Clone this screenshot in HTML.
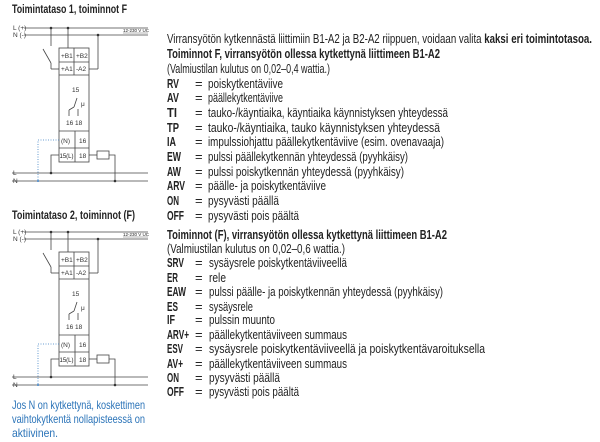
<!DOCTYPE html>
<html><head><meta charset="utf-8"><style>
html,body{margin:0;padding:0;background:#fff;}
svg{display:block;}
text{font-family:"Liberation Sans",sans-serif;fill:#222;}
.b{font-weight:bold;}
.s{font-size:6.5px;fill:#333;}
</style></head><body>
<svg width="600" height="442" viewBox="0 0 600 442" xmlns="http://www.w3.org/2000/svg">
<defs>
<g id="diag" stroke="#444" stroke-width="0.8" fill="none">
  <line x1="24" y1="28" x2="148" y2="28"/>
  <line x1="24" y1="35" x2="148" y2="35"/>
  <line x1="123" y1="33" x2="148" y2="33" stroke-width="0.4"/>
  <line x1="51" y1="28" x2="51" y2="46"/>
  <line x1="43" y1="49" x2="51" y2="63"/>
  <line x1="51" y1="63" x2="51" y2="69"/>
  <line x1="51" y1="69" x2="59" y2="69"/>
  <line x1="68" y1="28" x2="68" y2="48"/>
  <line x1="98" y1="35" x2="98" y2="69"/>
  <line x1="89" y1="69" x2="98" y2="69"/>
  <rect x="59" y="48" width="30" height="114" fill="#fff"/>
  <line x1="59" y1="62" x2="89" y2="62"/>
  <line x1="59" y1="75" x2="89" y2="75"/>
  <line x1="74" y1="48" x2="74" y2="75"/>
  <line x1="59" y1="131" x2="89" y2="131"/>
  <line x1="59" y1="148" x2="89" y2="148"/>
  <line x1="75" y1="131" x2="75" y2="162"/>
  <line x1="77" y1="98" x2="74" y2="107"/>
  <line x1="74" y1="107" x2="69" y2="110"/>
  <line x1="69" y1="110" x2="69" y2="116"/>
  <line x1="78" y1="109" x2="78" y2="116"/>
  <polyline points="59,140 38,140 38,181" stroke="#3a7fc4" stroke-dasharray="1,1.5"/>
  <polyline points="59,155 51,155 51,173"/>
  <line x1="89" y1="155" x2="97" y2="155"/>
  <rect x="97" y="151" width="12" height="8"/>
  <polyline points="109,155 115,155 115,181"/>
  <line x1="12" y1="173" x2="148" y2="173"/>
  <line x1="12" y1="181" x2="148" y2="181"/>
</g>
<g id="dots" fill="#333">
  <circle cx="51" cy="28" r="1.3"/><circle cx="68" cy="28" r="1.3"/><circle cx="98" cy="35" r="1.3"/>
  <circle cx="51" cy="173" r="1.3"/><circle cx="115" cy="181" r="1.3"/><circle cx="38" cy="181" r="1" fill="#3a7fc4"/>
</g>
<g id="lbl">
  <text x="13" y="30" class="s">L (+)</text>
  <text x="13" y="37" class="s">N (-)</text>
  <text x="123" y="32" style="font-size:4.5px">12-230 V UC</text>
  <text x="61" y="58" class="s">+B1</text><text x="76" y="58" class="s">+B2</text>
  <text x="61" y="71" class="s">+A1</text><text x="76" y="71" class="s">-A2</text>
  <text x="72" y="92" class="s">15</text>
  <text x="81" y="106" class="s">μ</text>
  <text x="66" y="125" class="s">16</text><text x="75" y="125" class="s">18</text>
  <text x="61" y="143" class="s">(N)</text><text x="79" y="143" class="s">16</text>
  <text x="59.5" y="158" style="font-size:6px">15(L)</text><text x="79" y="158" class="s">18</text>
  <text x="13" y="175" class="s">L</text>
  <text x="13" y="183" class="s">N</text>
</g>
</defs>

<text x="12" y="13" class="b" font-size="12" textLength="115" lengthAdjust="spacingAndGlyphs">Toimintataso 1, toiminnot F</text>
<use href="#diag"/><use href="#dots"/><use href="#lbl"/>
<text x="12" y="219" class="b" font-size="12" textLength="123" lengthAdjust="spacingAndGlyphs">Toimintataso 2, toiminnot (F)</text>
<g transform="translate(0,204)"><use href="#diag"/><use href="#dots"/><use href="#lbl"/></g>

<g font-size="12">
<text x="12" y="409" textLength="133" lengthAdjust="spacingAndGlyphs" style="fill:#2a73b8">Jos N on kytkettynä, koskettimen</text>
<text x="12" y="423" textLength="133" lengthAdjust="spacingAndGlyphs" style="fill:#2a73b8">vaihtokytkentä nollapisteessä on</text>
<text x="12" y="437" textLength="46" lengthAdjust="spacingAndGlyphs" style="fill:#2a73b8">aktiivinen.</text>
</g>

<g font-size="13">
<text x="167" y="43" textLength="425" lengthAdjust="spacingAndGlyphs">Virransyötön kytkennästä liittimiin B1-A2 ja B2-A2 riippuen, voidaan valita <tspan class="b">kaksi eri toimintotasoa.</tspan></text>
<text x="167" y="58" class="b" textLength="273" lengthAdjust="spacingAndGlyphs">Toiminnot F, virransyötön ollessa kytkettynä liittimeen B1-A2</text>
<text x="167" y="73" textLength="163" lengthAdjust="spacingAndGlyphs">(Valmiustilan kulutus on 0,02–0,4 wattia.)</text>

<g class="b">
<text x="167" y="88" textLength="12" lengthAdjust="spacingAndGlyphs">RV</text>
<text x="167" y="102" textLength="12" lengthAdjust="spacingAndGlyphs">AV</text>
<text x="167" y="117" textLength="10" lengthAdjust="spacingAndGlyphs">TI</text>
<text x="167" y="132" textLength="12" lengthAdjust="spacingAndGlyphs">TP</text>
<text x="167" y="146" textLength="9" lengthAdjust="spacingAndGlyphs">IA</text>
<text x="167" y="161" textLength="14" lengthAdjust="spacingAndGlyphs">EW</text>
<text x="167" y="176" textLength="14" lengthAdjust="spacingAndGlyphs">AW</text>
<text x="167" y="190" textLength="18" lengthAdjust="spacingAndGlyphs">ARV</text>
<text x="167" y="205" textLength="12" lengthAdjust="spacingAndGlyphs">ON</text>
<text x="167" y="220" textLength="17" lengthAdjust="spacingAndGlyphs">OFF</text>
</g>
<g>
<text x="195" y="88">=</text><text x="195" y="102">=</text><text x="195" y="117">=</text><text x="195" y="132">=</text>
<text x="195" y="146">=</text><text x="195" y="161">=</text><text x="195" y="176">=</text><text x="195" y="190">=</text>
<text x="195" y="205">=</text><text x="195" y="220">=</text>
</g>
<text x="208" y="88" textLength="75" lengthAdjust="spacingAndGlyphs">poiskytkentäviive</text>
<text x="208" y="102" textLength="75" lengthAdjust="spacingAndGlyphs">päällekytkentäviive</text>
<text x="208" y="117" textLength="240" lengthAdjust="spacingAndGlyphs">tauko-/käyntiaika, käyntiaika käynnistyksen yhteydessä</text>
<text x="208" y="132" textLength="232" lengthAdjust="spacingAndGlyphs">tauko-/käyntiaika, tauko käynnistyksen yhteydessä</text>
<text x="208" y="146" textLength="236" lengthAdjust="spacingAndGlyphs">impulssiohjattu päällekytkentäviive (esim. ovenavaaja)</text>
<text x="208" y="161" textLength="200" lengthAdjust="spacingAndGlyphs">pulssi päällekytkennän yhteydessä (pyyhkäisy)</text>
<text x="208" y="176" textLength="196" lengthAdjust="spacingAndGlyphs">pulssi poiskytkennän yhteydessä (pyyhkäisy)</text>
<text x="208" y="190" textLength="118" lengthAdjust="spacingAndGlyphs">päälle- ja poiskytkentäviive</text>
<text x="208" y="205" textLength="71" lengthAdjust="spacingAndGlyphs">pysyvästi päällä</text>
<text x="208" y="220" textLength="91" lengthAdjust="spacingAndGlyphs">pysyvästi pois päältä</text>

<text x="167" y="239" class="b" textLength="280" lengthAdjust="spacingAndGlyphs">Toiminnot (F), virransyötön ollessa kytkettynä liittimeen B1-A2</text>
<text x="167" y="253" textLength="178" lengthAdjust="spacingAndGlyphs">(Valmiustilan kulutus on 0,02–0,6 wattia.)</text>
<g class="b">
<text x="167" y="267" textLength="17" lengthAdjust="spacingAndGlyphs">SRV</text>
<text x="167" y="282" textLength="11" lengthAdjust="spacingAndGlyphs">ER</text>
<text x="167" y="296" textLength="19" lengthAdjust="spacingAndGlyphs">EAW</text>
<text x="167" y="311" textLength="11" lengthAdjust="spacingAndGlyphs">ES</text>
<text x="167" y="324" textLength="8" lengthAdjust="spacingAndGlyphs">IF</text>
<text x="167" y="339" textLength="22" lengthAdjust="spacingAndGlyphs">ARV+</text>
<text x="167" y="353" textLength="16" lengthAdjust="spacingAndGlyphs">ESV</text>
<text x="167" y="368" textLength="16" lengthAdjust="spacingAndGlyphs">AV+</text>
<text x="167" y="382" textLength="12" lengthAdjust="spacingAndGlyphs">ON</text>
<text x="167" y="396" textLength="17" lengthAdjust="spacingAndGlyphs">OFF</text>
</g>
<g>
<text x="195" y="267">=</text><text x="195" y="282">=</text><text x="195" y="296">=</text><text x="195" y="311">=</text>
<text x="195" y="324">=</text><text x="195" y="339">=</text><text x="195" y="353">=</text><text x="195" y="368">=</text>
<text x="195" y="382">=</text><text x="195" y="396">=</text>
</g>
<text x="209" y="267" textLength="138" lengthAdjust="spacingAndGlyphs">sysäysrele poiskytkentäviiveellä</text>
<text x="209" y="282" textLength="17" lengthAdjust="spacingAndGlyphs">rele</text>
<text x="209" y="296" textLength="234" lengthAdjust="spacingAndGlyphs">pulssi päälle- ja poiskytkennän yhteydessä (pyyhkäisy)</text>
<text x="209" y="311" textLength="44" lengthAdjust="spacingAndGlyphs">sysäysrele</text>
<text x="209" y="324" textLength="66" lengthAdjust="spacingAndGlyphs">pulssin muunto</text>
<text x="209" y="339" textLength="138" lengthAdjust="spacingAndGlyphs">päällekytkentäviiveen summaus</text>
<text x="209" y="353" textLength="276" lengthAdjust="spacingAndGlyphs">sysäysrele poiskytkentäviiveellä ja poiskytkentävaroituksella</text>
<text x="209" y="368" textLength="138" lengthAdjust="spacingAndGlyphs">päällekytkentäviiveen summaus</text>
<text x="209" y="382" textLength="71" lengthAdjust="spacingAndGlyphs">pysyvästi päällä</text>
<text x="209" y="396" textLength="90" lengthAdjust="spacingAndGlyphs">pysyvästi pois päältä</text>
</g>
</svg>
</body></html>
